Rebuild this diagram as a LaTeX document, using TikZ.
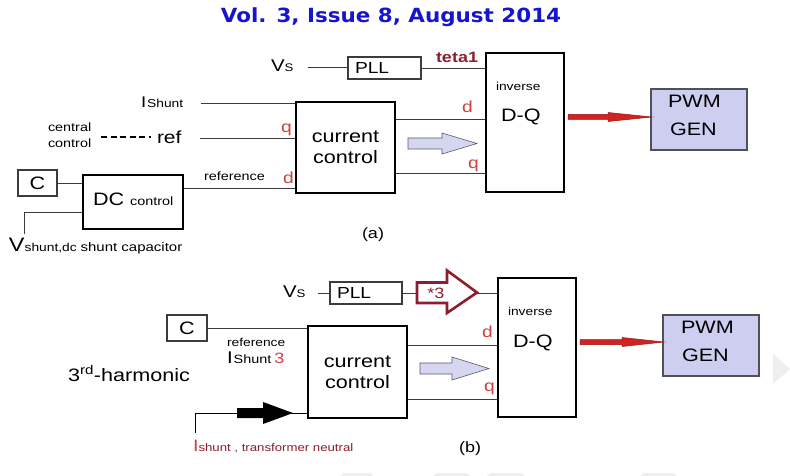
\documentclass[tikz,border=0pt]{standalone}
\usepackage{fontspec}
\setmainfont{Liberation Sans}[FakeStretch=1.2]
\newfontfamily\titlefont{DejaVu Sans}[FakeStretch=1.1]
\newcommand{\fsz}[1]{\fontsize{#1}{#1}\selectfont}
\definecolor{lbl}{RGB}{208,64,64}
\definecolor{dred}{RGB}{140,30,45}
\definecolor{lav}{RGB}{206,206,240}
\definecolor{lavarrow}{RGB}{214,214,240}
\definecolor{arrred}{RGB}{210,35,35}
\definecolor{ttl}{RGB}{20,20,210}
\definecolor{ln}{RGB}{60,60,60}
\definecolor{wm}{RGB}{238,238,238}
\begin{document}
\begin{tikzpicture}[x=1pt,y=-1pt,
  txt/.style={inner sep=0pt, outer sep=0pt},
  thickbox/.style={draw=black, line width=2.6pt, inner sep=0pt},
  thinbox/.style={draw=ln, line width=1.1pt, inner sep=0pt},
  conn/.style={draw=ln, line width=0.9pt},
  lab/.style={txt, anchor=base west, text=lbl, font=\fsz{16}},
  pwmbox/.style={draw={rgb,255:red,80;green,80;blue,90}, line width=1.3pt, fill=lav, minimum width=96pt, minimum height=61pt},
  ccbox/.style={thickbox, minimum width=99pt, minimum height=91pt, align=center, font=\fontsize{18}{21}\selectfont},
  invbox/.style={thickbox, minimum width=78pt, minimum height=139pt},
  redarrow/.style={fill=arrred, draw={rgb,255:red,150;green,20;blue,20}, line width=0.5pt},
  lavarr/.style={fill=lavarrow, draw={rgb,255:red,90;green,90;blue,110}, line width=0.6pt},
  bw/.style={txt, anchor=base west}
]
\useasboundingbox (0,0) rectangle (790,476);
\fill[white] (0,0) rectangle (790,476);

% watermark
\fill[wm] (773,354) -- (790,369) -- (773,384) -- cycle;
\fill[wm] (344,473) -- (370,473) -- (373,476) -- (340,476) -- cycle;
\fill[wm] (437,473) -- (466,473) -- (470,476) -- (433,476) -- cycle;
\fill[wm] (491,473) -- (521,473) -- (525,476) -- (487,476) -- cycle;
\fill[wm] (644,473) -- (673,473) -- (677,476) -- (640,476) -- cycle;

% title
\node[txt, anchor=base, text=ttl, font=\titlefont\bfseries\fsz{19.5}] (title) at (391,23) {Vol. 3, Issue 8, August 2014};

% ================= (a) =================
\node[bw, font=\fsz{17}] (vsa) at (271,72) {V\fsz{11}S};
\coordinate (vsaend) at (308,67.5);
\node[thinbox, minimum width=73pt, minimum height=22pt] (plla) at (384.5,68) {};
\node[bw, font=\fsz{16}] (pllat) at (355,74) {PLL};
\draw[conn] (vsaend) -- (plla.west |- vsaend);
\node[invbox] (inva) at (525,122.5) {};
\draw[conn] (plla.east) -- (inva.west |- plla.east);
\node[bw, text=dred, font=\bfseries\fsz{15}] (teta) at (436,63) {teta1};
\node[bw, font=\fsz{11.5}] (inva1) at (496,91) {inverse};
\node[bw, font=\fsz{18}] (inva2) at (501,122) {D-Q};

\node[pwmbox] (pwma) at (699,119.5) {};
\node[bw, font=\fsz{18}] (pwma1) at (668,108) {PWM};
\node[bw, font=\fsz{18}] (pwma2) at (670,136) {GEN};
\path[redarrow] (568,114.5) -- (608,114.5) -- (608,112.5) -- (652,117) -- (608,121.5) -- (608,119.5) -- (568,119.5) -- cycle;

\node[ccbox] (cca) at (345.5,147.5) {current\\control};

\coordinate (isha) at (201,103);
\node[bw, font=\fsz{15.5}] (ishat) at (141,108) {I\kern1pt\fsz{11.5}Shunt};
\draw[conn] (isha) -- (cca.west |- isha);

\node[bw, font=\fsz{12}] (cen1) at (48,132) {central};
\node[bw, font=\fsz{12}] (cen2) at (48,148) {control};
\node[bw, font=\fsz{17.5}] (ref) at (157,144) {ref};
\coordinate (dsh1) at (101,137);
\coordinate (dsh2) at (151,137);
\draw[line width=2.4pt, dash pattern=on 6pt off 3.5pt] (dsh1) -- (dsh2);
\coordinate (refa) at (200,138);
\draw[conn] (refa) -- (cca.west |- refa);
\node[lab] (qa) at (281,133) {q};

\node[bw, font=\fsz{12}] (refta) at (204,180) {reference};
\node[lab] (da) at (283,183) {d};

\node[thickbox, minimum width=100pt, minimum height=54pt] (dc) at (133,202) {};
\node[bw, font=\fsz{18}] (dct) at (93,205) {DC {\fsz{12}control}};
\node[thinbox, minimum width=39pt, minimum height=26pt, font=\fsz{18}] (ca) at (37.5,183) {C};
\draw[conn] (ca.east) -- (dc.west |- ca.east);
\coordinate (vdcl) at (24,234);
\draw[conn] (dc.west |- 0,212) -| (vdcl);
\node[bw, font=\fsz{19.5}] (vdc) at (9,251) {V\fsz{11.5}shunt,dc {\fsz{12.5}shunt capacitor}};
\draw[conn] (dc.east |- 0,188) -- (cca.west |- 0,188);
\node[txt, anchor=base, font=\fsz{15}] (capa) at (373,238) {(a)};

\draw[conn] (cca.east |- 0,119) -- (inva.west |- 0,119);
\node[lab] (da2) at (462,113) {d};
\draw[conn] (cca.east |- 0,173) -- (inva.west |- 0,173);
\node[lab] (qa2) at (468,168) {q};
\path[lavarr] (408,138) -- (442,138) -- (442,133) -- (477,143.5) -- (442,154) -- (442,149) -- (408,149) -- cycle;

% ================= (b) =================
\node[bw, font=\fsz{17}] (vsb) at (283,297) {V\fsz{11}S};
\coordinate (vsbend) at (318,293);
\node[thinbox, minimum width=72pt, minimum height=22pt] (pllb) at (366,293) {};
\node[bw, font=\fsz{16}] (pllbt) at (337,298) {PLL};
\draw[conn] (vsbend) -- (pllb.west);
\node[invbox] (invb) at (537,347.5) {};
\coordinate (m3a) at (417,293);
\coordinate (m3b) at (477,293);
\draw[conn] (pllb.east) -- (m3a);
\draw[conn] (m3b) -- (invb.west |- m3b);
\path[draw=dred, line width=2.6pt, line join=miter, fill=white] (417,282.5) -- (447,282.5) -- (447,270.5) -- (477,292.5) -- (447,313) -- (447,303) -- (417,303) -- cycle;
\node[txt, text=dred, font=\fsz{15}] (m3t) at (436,293) {*3};
\node[bw, font=\fsz{11.5}] (invb1) at (508,315) {inverse};
\node[bw, font=\fsz{18}] (invb2) at (513,347) {D-Q};

\node[pwmbox] (pwmb) at (711,345.5) {};
\node[bw, font=\fsz{18}] (pwmb1) at (681,333) {PWM};
\node[bw, font=\fsz{18}] (pwmb2) at (682,361) {GEN};
\path[redarrow] (580,339.5) -- (622,339.5) -- (622,337.5) -- (664,342) -- (622,346.5) -- (622,344.5) -- (580,344.5) -- cycle;

\node[ccbox, minimum height=92pt] (ccb) at (357.5,372) {current\\control};
\draw[conn] (ccb.east |- 0,345) -- (invb.west |- 0,345);
\node[lab] (db) at (482,337) {d};
\draw[conn] (ccb.east |- 0,399) -- (invb.west |- 0,399);
\node[lab] (qb) at (484,391) {q};
\path[lavarr] (420,363) -- (452,363) -- (452,357) -- (489,368.5) -- (452,380) -- (452,374) -- (420,374) -- cycle;

\node[thinbox, minimum width=40pt, minimum height=26pt, font=\fsz{18}] (cb) at (187,328) {C};
\draw[conn] (cb.east) -- (ccb.west |- cb.east);
\node[bw, font=\fsz{11.5}] (reftb) at (227,346) {reference};
\node[bw, font=\fsz{17}] (ish3) at (227,363) {I\kern1pt\fsz{12}Shunt\kern3pt\textcolor{lbl}{\fsz{15}3}};
\node[bw, font=\fsz{18}] (harm) at (68,381) {3\textsuperscript{rd}-harmonic};

\coordinate (neu) at (195,433);
\draw[line width=1pt, black] (neu) |- (ccb.west |- 0,413);
\path[fill=black] (237,408) -- (263,408) -- (263,402) -- (293,413) -- (263,424) -- (263,418) -- (237,418) -- cycle;
\node[bw, text=dred, font=\fsz{16.5}] (ineu) at (193,451) {\textcolor{lbl}{I}\fsz{11}shunt , transformer neutral};
\node[txt, anchor=base, font=\fsz{15}] (capb) at (470,452) {(b)};
\end{tikzpicture}
\end{document}
